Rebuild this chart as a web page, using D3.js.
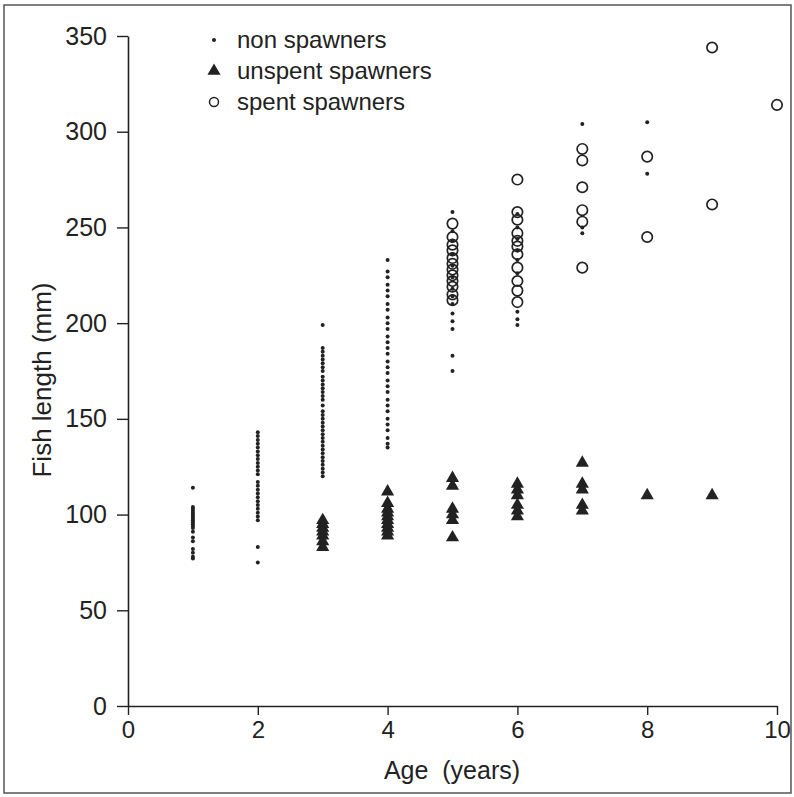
<!DOCTYPE html>
<html>
<head>
<meta charset="utf-8">
<script src="https://cdn.jsdelivr.net/npm/d3@7"></script>
<style>
  body { margin: 0; background: #fff; }
  svg text { font-family: "Liberation Sans", Arial, sans-serif; fill: #222; white-space: pre; }
</style>
</head>
<body>
<div id="chart"></div>
<script>
// ages on the x axis, one entry per column of points
var ages = [1, 2, 3, 4, 5, 6, 7, 8, 9, 10];

// fish lengths (mm) per age
var nonSpawners = [
  [114, 104, 103, 102, 101, 100, 99, 98, 97, 96, 95, 94, 93, 91, 88, 86, 82, 80, 78, 77],
  [143, 141, 139, 137, 135, 133, 131, 129, 127, 125, 123, 121, 117, 115, 113, 111, 109, 107, 105, 103, 101, 99, 97, 83, 75],
  [199, 187, 185, 183, 181, 179, 177, 175, 172, 170, 168, 166, 164, 162, 160, 157, 154, 152, 150, 148, 146, 144, 142, 140, 138, 136, 134, 132, 130, 128, 126, 124, 122, 120],
  [233, 227, 224, 220, 217, 214, 210, 207, 203, 200, 197, 193, 190, 187, 184, 180, 177, 174, 170, 167, 164, 160, 157, 154, 150, 147, 144, 140, 137, 135],
  [258, 248, 243, 236, 230, 224, 218, 214, 210, 205, 201, 197, 183, 175],
  [257, 250, 244, 238, 233, 226, 206, 202, 199],
  [304, 250, 247],
  [305, 278],
  [],
  []
];

var unspentSpawners = [
  [],
  [],
  [97, 95, 93, 91, 89, 86, 83],
  [112, 106, 103, 101, 99, 97, 95, 93, 91, 89],
  [119, 115, 103, 100, 97, 88],
  [116, 113, 110, 105, 102, 99],
  [127, 116, 113, 105, 102],
  [110],
  [110],
  []
];

var spentSpawners = [
  [],
  [],
  [],
  [],
  [252, 245, 241, 238, 234, 231, 228, 225, 222, 219, 215, 212],
  [275, 258, 254, 247, 243, 240, 236, 229, 222, 217, 211],
  [291, 285, 271, 259, 253, 229],
  [287, 245],
  [344, 262],
  [314]
];

var xTicks = [0, 2, 4, 6, 8, 10];
var yTicks = [0, 50, 100, 150, 200, 250, 300, 350];

var legendLabels = ['non spawners', 'unspent spawners', 'spent spawners'];

var width = 794, height = 797;
var ink = '#222';

var svg = d3.select('#chart').append('svg')
  .attr('width', width)
  .attr('height', height);

// page frame of the scan
svg.append('rect')
  .attr('x', 4).attr('y', 5)
  .attr('width', 787).attr('height', 788)
  .attr('fill', 'none')
  .attr('stroke', '#555')
  .attr('stroke-width', 1.5);

var x = d3.scaleLinear().domain([0, 10]).range([128, 777]);
var y = d3.scaleLinear().domain([0, 350]).range([706, 36]);

function flatten(groups) {
  var out = [];
  groups.forEach(function(vals, i) {
    vals.forEach(function(v) { out.push({age: ages[i], len: v}); });
  });
  return out;
}

//Axes
var xAxis = svg.append('g')
  .attr('transform', 'translate(0,' + y(0) + ')')
  .call(d3.axisBottom(x).tickValues(xTicks).tickSize(9).tickSizeOuter(0).tickPadding(6));

var yAxis = svg.append('g')
  .attr('transform', 'translate(' + x(0) + ',0)')
  .call(d3.axisLeft(y).tickValues(yTicks).tickSize(11).tickSizeOuter(0).tickPadding(10));

[xAxis, yAxis].forEach(function(a, i) {
  a.select('.domain').attr('stroke', ink).attr('stroke-width', 1.6);
  a.selectAll('.tick line').attr('stroke', ink).attr('stroke-width', 1.4);
  a.selectAll('.tick text')
    .attr('font-size', i === 0 ? 24 : 25)
    .attr('font-family', '"Liberation Sans", Arial, sans-serif')
    .attr('fill', ink);
});

svg.append('text')
  .attr('x', 452).attr('y', 779)
  .attr('text-anchor', 'middle')
  .attr('font-size', 25)
  .text('Age  (years)');

svg.append('text')
  .attr('transform', 'translate(51,' + 380 + ') rotate(-90)')
  .attr('text-anchor', 'middle')
  .attr('font-size', 26)
  .text('Fish length (mm)');

//Points
svg.append('g').selectAll('circle')
  .data(flatten(nonSpawners))
  .enter().append('circle')
  .attr('cx', function(d) { return x(d.age); })
  .attr('cy', function(d) { return y(d.len); })
  .attr('r', 2)
  .attr('fill', ink);

var tri = d3.symbol().type(d3.symbolTriangle).size(75);

svg.append('g').selectAll('path')
  .data(flatten(unspentSpawners))
  .enter().append('path')
  .attr('d', tri)
  .attr('transform', function(d) { return 'translate(' + x(d.age) + ',' + y(d.len) + ')'; })
  .attr('fill', ink);

svg.append('g').selectAll('circle')
  .data(flatten(spentSpawners))
  .enter().append('circle')
  .attr('cx', function(d) { return x(d.age); })
  .attr('cy', function(d) { return y(d.len); })
  .attr('r', 5.2)
  .attr('fill', 'none')
  .attr('stroke', ink)
  .attr('stroke-width', 1.7);

//Legend
var legend = svg.append('g');
legendLabels.forEach(function(label, i) {
  var ly = 40 + i * 31;
  if (i === 0) {
    legend.append('circle').attr('cx', 214).attr('cy', ly).attr('r', 2).attr('fill', ink);
  } else if (i === 1) {
    legend.append('path').attr('d', tri).attr('transform', 'translate(214,' + ly + ')').attr('fill', ink);
  } else {
    legend.append('circle').attr('cx', 214).attr('cy', ly).attr('r', 4.5)
      .attr('fill', 'none').attr('stroke', ink).attr('stroke-width', 1.5);
  }
  legend.append('text')
    .attr('x', 237).attr('y', ly + 8)
    .attr('font-size', 24)
    .text(label);
});
</script>
</body>
</html>
